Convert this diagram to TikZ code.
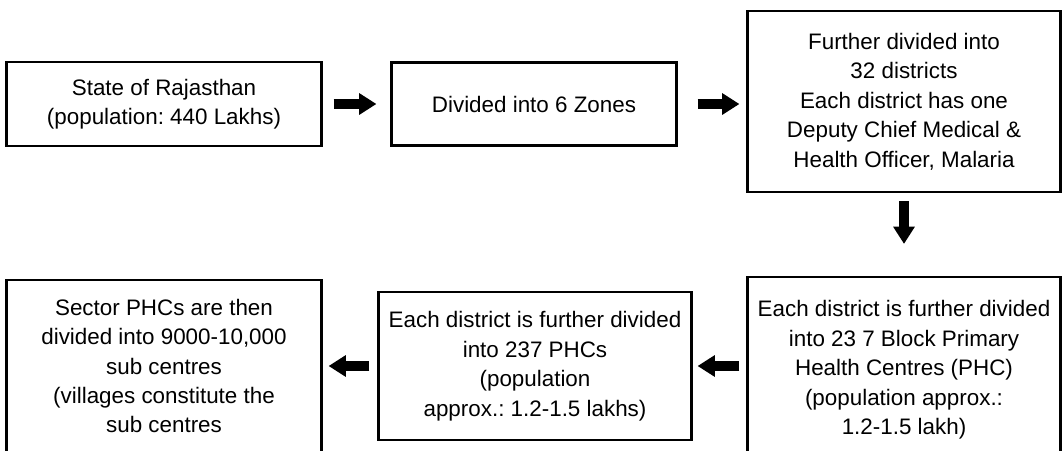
\documentclass[tikz,border=0pt]{standalone}
\usepackage{fontspec}
\setmainfont{Liberation Sans}
\frenchspacing
\usetikzlibrary{arrows.meta}
\tikzset{
  level_box/.style={rectangle, draw=black, line width=1.6pt, align=center, inner sep=0pt, font=\fontsize{16.8}{22.1}\selectfont},
  block_arrow/.style={-{Triangle[length=13pt, width=15.5pt]}, line width=7.5pt, black}
}

\begin{document}
\begin{tikzpicture}[x=0.75pt, y=-0.75pt]

  % --- Page frame (the bottom row runs off the page) ---
  \path[use as bounding box, clip] (0,0) rectangle (1062,450);

  % --- Geometry Definitions ---
  \def\xLeft{164}
  \def\xMid{535}
  \def\xRight{904}
  \def\yTop{104}

  % --- Top row ---
  \node[level_box, minimum width=236.25pt, minimum height=63pt] (state) at (\xLeft, \yTop)
    {State of Rajasthan\\(population: 440 Lakhs)};
  \node[level_box, minimum width=213.75pt, minimum height=62.25pt] (zones) at (534, \yTop)
    {Divided into 6 Zones};
  \node[level_box, minimum width=234.75pt, minimum height=135.75pt] (districts) at (\xRight, 101.5)
    {Further divided into\\32 districts\\Each district has one\\Deputy Chief Medical \&\\Health Officer, Malaria};

  % --- Bottom row ---
  \node[level_box, minimum width=234.75pt, minimum height=139.5pt] (blocks) at (\xRight, 370)
    {Each district is further divided\\into 23 7 Block Primary\\Health Centres (PHC)\\(population approx.:\\1.2-1.5 lakh)};
  \node[level_box, minimum width=234.75pt, minimum height=111pt] (phcs) at (\xMid, 366)
    {Each district is further divided\\into 237 PHCs\\(population\\approx.: 1.2-1.5 lakhs)};
  \node[level_box, minimum width=236.25pt, minimum height=129pt] (sectors) at (\xLeft, 366)
    {Sector PHCs are then\\divided into 9000-10,000\\sub centres\\(villages constitute the\\sub centres};

  % --- Arrows ---
  \draw[block_arrow, shorten <=8.25pt, shorten >=10.5pt] (state.east) -- (zones.west);
  \draw[block_arrow, shorten <=15pt, shorten >=5.25pt] (zones.east) -- (zones.east -| districts.west);
  \draw[block_arrow, shorten <=6pt, shorten >=24pt] (districts.south) -- (blocks.north);
  \draw[block_arrow, shorten <=5.25pt, shorten >=3.75pt] (blocks.west |- phcs.east) -- (phcs.east);
  \draw[block_arrow, shorten <=6pt, shorten >=4.5pt] (phcs.west) -- (phcs.west -| sectors.east);

\end{tikzpicture}
\end{document}
